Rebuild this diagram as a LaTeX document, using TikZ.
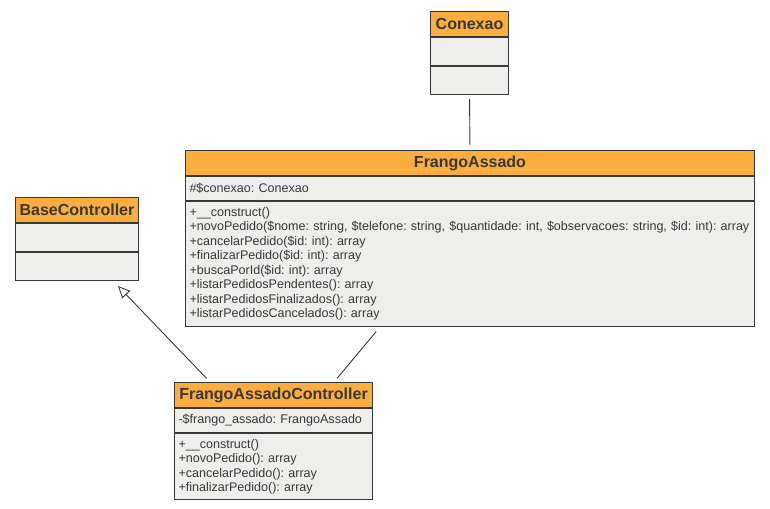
\documentclass[tikz,border=0pt]{standalone}
\usepackage{fontspec}
\setmainfont{Liberation Sans}
\usetikzlibrary{positioning,arrows.meta,calc}
\definecolor{headorange}{RGB}{251,173,62}
\definecolor{boxgray}{RGB}{238,238,236}
\definecolor{linegray}{RGB}{56,56,56}
\def\membfont{\frenchspacing\fontsize{12.55}{14.5}\selectfont}

\begin{document}
\begin{tikzpicture}[x=1pt,y=-1pt,
    head/.style={draw=linegray, line width=1pt, fill=headorange, text=linegray,
        font=\bfseries\fontsize{16}{18}\selectfont, minimum width=#1,
        minimum height=25pt, inner sep=0pt, anchor=north west},
    comp/.style={draw=linegray, line width=1pt, fill=boxgray, text=linegray,
        font=\membfont, align=left, text width=#1, inner xsep=4pt, inner ysep=0pt},
    link/.style={draw=linegray, line width=0.9pt}]
    \fill[white] (0,0) rectangle (770,508);
    \useasboundingbox (0,0) rectangle (770,508);

    % Conexao
    \node[head=78pt] (cxh) at (430,11) {Conexao};
    \node[comp=70pt, minimum height=28pt, below=0pt of cxh] (cxa) {};
    \node[comp=70pt, minimum height=28pt, below=0pt of cxa] (cxm) {};

    % FrangoAssado
    \node[head=569pt] (fah) at (185,150) {FrangoAssado};
    \node[comp=561pt, minimum height=24pt, below=0pt of fah] (faa) {\#\$conexao: Conexao};
    \node[comp=561pt, minimum height=125pt, below=0pt of faa] (fam) {+\_\_construct()\\
        +novoPedido(\$nome: string, \$telefone: string, \$quantidade: int, \$observacoes: string, \$id: int): array\\
        +cancelarPedido(\$id: int): array\\
        +finalizarPedido(\$id: int): array\\
        +buscaPorId(\$id: int): array\\
        +listarPedidosPendentes(): array\\
        +listarPedidosFinalizados(): array\\
        +listarPedidosCancelados(): array};

    % BaseController
    \node[head=123pt] (bch) at (15,197) {BaseController};
    \node[comp=115pt, minimum height=28pt, below=0pt of bch] (bca) {};
    \node[comp=115pt, minimum height=28pt, below=0pt of bca] (bcm) {};

    % FrangoAssadoController
    \node[head=198pt] (fch) at (174,382) {FrangoAssadoController};
    \node[comp=190pt, minimum height=24pt, below=0pt of fch] (fca) {-\$frango\_assado: FrangoAssado};
    \node[comp=190pt, minimum height=66pt, below=0pt of fca] (fcm) {+\_\_construct()\\
        +novoPedido(): array\\
        +cancelarPedido(): array\\
        +finalizarPedido(): array};

    % relations
    \draw[link, shorten <=4pt, shorten >=5pt] (cxm.south) -- (fah.north);
    \coordinate (faout) at ([xshift=195pt]fam.south west);
    \coordinate (fcin) at ([xshift=160pt]fch.north west);
    \draw[link, shorten <=6pt, shorten >=5pt] (faout) -- (fcin);
    \coordinate (fcgen) at ([xshift=36pt]fch.north west);
    \coordinate (bcin) at ([xshift=103pt, yshift=-5pt]bcm.south west);
    \draw[link, -{Triangle[open, length=12pt, width=11pt]}, shorten <=5pt] (fcgen) -- (bcin);
\end{tikzpicture}
\end{document}
